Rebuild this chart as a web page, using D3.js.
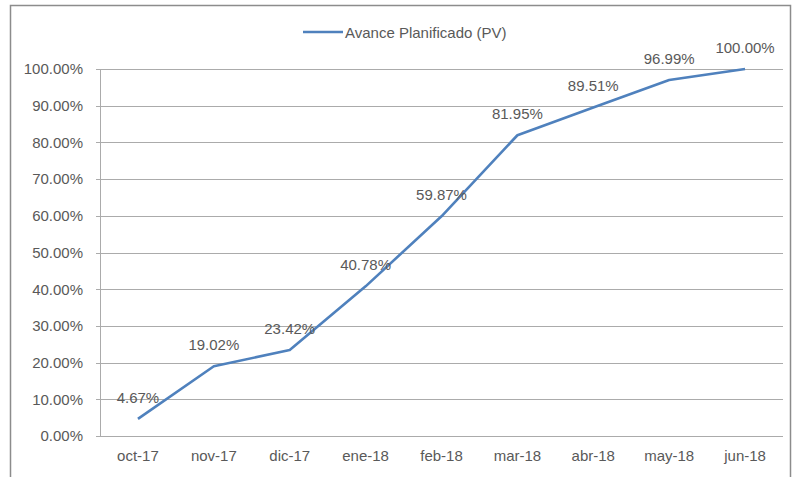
<!DOCTYPE html>
<html><head><meta charset="utf-8">
<script src="https://cdn.jsdelivr.net/npm/d3@7/dist/d3.min.js"></script>
<style>body{margin:0;background:#fff}svg{display:block}text{font-family:"Liberation Sans",Arial,sans-serif;fill:#595959}</style>
</head><body><svg id="c" width="795" height="477"></svg>
<script>
const categories = ["oct-17","nov-17","dic-17","ene-18","feb-18","mar-18","abr-18","may-18","jun-18"];
const values = [4.67,19.02,23.42,40.78,59.87,81.95,89.51,96.99,100.00];
const yTicks = [0,10,20,30,40,50,60,70,80,90,100];
const seriesName = "Avance Planificado (PV)";

const svg = d3.select("#c");
const m = {l:100, r:12, t:69, b:41};
const W = 795, H = 477;
// outer border
svg.append("rect").attr("x",10.5).attr("y",5.5).attr("width",780).attr("height",480)
  .attr("fill","none").attr("stroke","#8c8c8c").attr("stroke-width",1.5);

const x = d3.scaleBand().domain(categories).range([m.l, W-m.r]);
const y = d3.scaleLinear().domain([0,100]).range([H-m.b, m.t]);

// gridlines
svg.append("g").selectAll("line").data(yTicks).join("line")
  .attr("x1",m.l-4).attr("x2",W-m.r)
  .attr("y1",d=>Math.round(y(d))+0.5).attr("y2",d=>Math.round(y(d))+0.5)
  .attr("stroke","#ababab").attr("stroke-width",1);
// y axis line
svg.append("line").attr("x1",m.l+0.5).attr("x2",m.l+0.5).attr("y1",y(100)).attr("y2",y(0))
  .attr("stroke","#ababab");

const yAxis = d3.axisLeft(y).tickValues(yTicks).tickFormat(d=>d.toFixed(2)+"%").tickSize(0).tickPadding(17);
const ga = svg.append("g").attr("transform",`translate(${m.l},0)`).call(yAxis);
ga.select(".domain").remove();
ga.selectAll("text").attr("font-size",15).attr("fill","#595959").style("font-family","Liberation Sans");

const xAxis = d3.axisBottom(x).tickSize(0).tickPadding(14);
const gx = svg.append("g").attr("transform",`translate(0,${y(0)})`).call(xAxis);
gx.select(".domain").remove();
gx.selectAll("text").attr("font-size",15).attr("fill","#595959").style("font-family","Liberation Sans");

const line = d3.line().x((d,i)=>x(categories[i])+x.bandwidth()/2).y(d=>y(d));
svg.append("path").datum(values).attr("d",line).attr("fill","none")
  .attr("stroke","#4f81bd").attr("stroke-width",2.6).attr("stroke-linejoin","round");

svg.append("g").selectAll("text").data(values).join("text")
  .attr("x",(d,i)=>x(categories[i])+x.bandwidth()/2)
  .attr("y",d=>y(d)-16)
  .attr("text-anchor","middle").attr("font-size",15)
  .text(d=>d.toFixed(2)+"%");

// legend
svg.append("line").attr("x1",303).attr("x2",343).attr("y1",32).attr("y2",32)
  .attr("stroke","#4f81bd").attr("stroke-width",2.6);
svg.append("text").attr("x",345).attr("y",37.5).attr("font-size",15).text(seriesName);
</script></body></html>
